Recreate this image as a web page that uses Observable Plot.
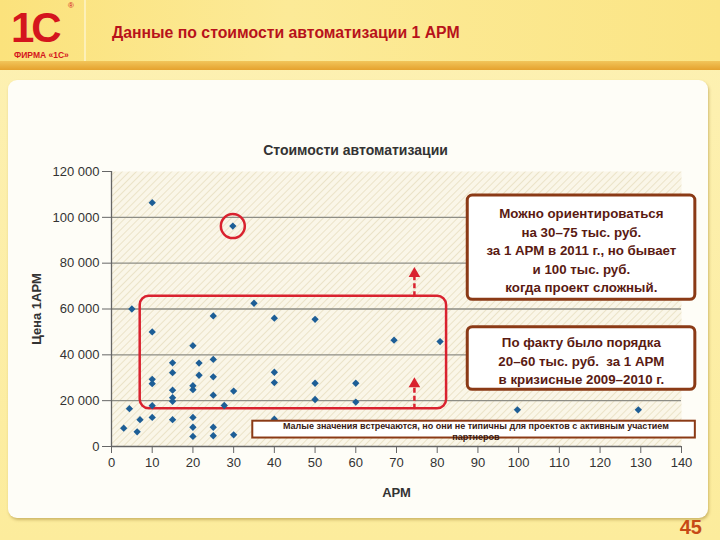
<!DOCTYPE html>
<html><head><meta charset="utf-8">
<script src="https://cdn.jsdelivr.net/npm/d3@7"></script>
<script src="https://cdn.jsdelivr.net/npm/@observablehq/plot@0.6"></script>
<style>
body{margin:0;}
#slide{position:relative;width:720px;height:540px;overflow:hidden;background:linear-gradient(#fdf1b4,#fcec9c);font-family:"Liberation Sans",Arial,sans-serif;}
#header{position:absolute;left:0;top:0;width:720px;height:61px;background:linear-gradient(90deg,#fbe27c,#fcea97 40%,#fbe586);}
#sep{position:absolute;left:84px;top:0;width:2px;height:61px;background:#fdf0b8;}
#band{position:absolute;left:0;top:61px;width:720px;height:9px;background:linear-gradient(#f2c55a,#e5a22e);}
#logo{position:absolute;left:11px;top:4px;color:#d4151d;font-weight:bold;font-size:42px;letter-spacing:-3px;line-height:normal;font-family:"Liberation Sans",Arial,sans-serif;white-space:nowrap;}
#reg{position:absolute;left:68px;top:2px;color:#d4151d;font-size:8px;line-height:8px;}
#firma{position:absolute;left:14px;top:51px;color:#d4151d;font-weight:bold;font-size:8.5px;line-height:9px;}
#title{position:absolute;left:112px;top:24px;color:#b8121b;font-weight:bold;font-size:15.8px;}
#panel{position:absolute;left:8px;top:80px;width:700px;height:438px;background:#fefdf7;border-radius:9px;box-shadow:1px 2px 3px rgba(150,120,40,0.45);}
#chart{position:absolute;left:0;top:80px;}
#pagenum{position:absolute;right:18px;top:516px;color:#c64a16;font-weight:bold;font-size:20px;}
</style></head><body>
<div id="slide">
  <div id="header"></div>
  <div id="sep"></div>
  <div id="band"></div>
  <div id="logo">1С</div>
  <div id="reg">®</div>
  <div id="firma">ФИРМА «1С»</div>
  <div id="title">Данные по стоимости автоматизации 1 АРМ</div>
  <div id="panel"></div>
  <div id="chart"></div>
  <div id="pagenum">45</div>
</div>
<script>
// data: number of workstations (АРМ) and price per workstation
const apm   = [3, 4.4, 5, 6.3, 7, 10, 10, 10, 10, 10, 10, 15, 15, 15, 15, 15, 15, 20, 20, 20, 20, 20, 20, 21.5, 21.5, 25, 25, 25, 25, 25, 25, 27.7, 29.8, 30, 30, 35, 40, 40, 40, 40, 50, 50, 50, 60, 60, 69.4, 80.7, 99.7, 129.4];
const price = [8000, 16500, 60000, 6400, 11700, 106400, 50000, 29300, 27400, 17800, 12700, 36500, 32200, 24600, 21300, 19700, 11700, 44000, 26500, 24800, 12700, 8400, 4400, 36400, 31100, 57000, 38000, 30400, 22400, 8400, 4700, 17900, 96200, 24200, 5100, 62500, 56000, 32400, 27900, 11900, 55500, 27600, 20500, 27600, 19400, 46400, 45800, 16000, 16000];
const xTicks = [0, 10, 20, 30, 40, 50, 60, 70, 80, 90, 100, 110, 120, 130, 140];
const yTicks = [0, 20000, 40000, 60000, 80000, 100000, 120000];
const gridLevels = [20000, 40000, 60000, 80000, 100000];
const highlighted = [{x: 29.8, y: 96200}];

const chartTitle = "Стоимости автоматизации";
const yLabel = "Цена 1АРМ";
const xLabel = "АРМ";
const note1 = "Можно ориентироваться\nна 30–75 тыс. руб.\nза 1 АРМ в 2011 г., но бывает\nи 100 тыс. руб.\nкогда проект сложный.";
const note2 = "По факту было порядка\n20–60 тыс. руб.  за 1 АРМ\nв кризисные 2009–2010 г.";
const note3 = "Малые значения встречаются, но они не типичны для проектов с активным участием\nпартнеров";

const points = apm.map((a, i) => ({apm: a, price: price[i]}));
const fmt = d => d === 0 ? "0" : d3.format(",")(d).replace(/,/g, " ");
const red = "#d9222f", brown = "#8b3a16", textRed = "#5a1a12";

const chart = Plot.plot({
  width: 720, height: 440,
  marginLeft: 111, marginRight: 39, marginTop: 91, marginBottom: 74,
  style: {fontFamily: "Liberation Sans, Arial, sans-serif", fontSize: "13px", background: "transparent", overflow: "visible", color: "#333"},
  x: {domain: [0, 140]},
  y: {domain: [0, 120000]},
  marks: [
    Plot.frame({fill: "#faf6e8", stroke: "none"}),
    Plot.ruleY(gridLevels, {stroke: "#8d8d85", strokeWidth: 1.3}),
    Plot.ruleY([0], {stroke: "#666", strokeWidth: 1.3}),
    Plot.ruleX([0], {stroke: "#666", strokeWidth: 1.3}),
    Plot.axisY({ticks: yTicks, tickFormat: fmt, tickSize: 9, tickPadding: 3, stroke: "#666", fill: "#333", label: null}),
    Plot.axisX({ticks: xTicks, tickSize: 7, tickPadding: 4, stroke: "#666", fill: "#333", label: null}),
    Plot.text([chartTitle], {text: d => d, frameAnchor: "top", textAnchor: "middle", lineAnchor: "middle", dx: -41, dy: -21, fontWeight: "bold", fontSize: 14, fill: "#333"}),
    Plot.text([yLabel], {text: d => d, frameAnchor: "left", textAnchor: "middle", lineAnchor: "middle", dx: -75, rotate: -90, fontWeight: "bold", fontSize: 13, fill: "#333"}),
    Plot.text([xLabel], {text: d => d, frameAnchor: "bottom", textAnchor: "middle", lineAnchor: "middle", dy: 46, fontWeight: "bold", fontSize: 13, fill: "#333"}),
    Plot.rect([0], {x1: 7.05, x2: 82.3, y1: 16500, y2: 65600, rx: 9, fill: "none", stroke: red, strokeWidth: 2.5}),
    Plot.link([0], {x1: 74.4, x2: 74.4, y1: 16500, y2: 26200, stroke: red, strokeWidth: 2.5, strokeDasharray: "5,3"}),
    Plot.dot([0], {x: 74.4, y: 27300, symbol: "triangle", r: 4.3, fill: red, stroke: "none"}),
    Plot.link([0], {x1: 74.4, x2: 74.4, y1: 65600, y2: 74600, stroke: red, strokeWidth: 2.5, strokeDasharray: "5,3"}),
    Plot.dot([0], {x: 74.4, y: 75400, symbol: "triangle", r: 4.3, fill: red, stroke: "none"}),
    Plot.dot(points, {x: "apm", y: "price", symbol: "diamond2", r: 3.3, fill: "#1d5e96", stroke: "none"}),
    Plot.dot(highlighted, {x: "x", y: "y", r: 12, fill: "none", stroke: red, strokeWidth: 2.5}),
    Plot.rect([0], {x1: 87.5, x2: 143.4, y1: 64000, y2: 109500, rx: 5, fill: "white", stroke: brown, strokeWidth: 3}),
    Plot.text([note1], {text: d => d, x: 115.4, y: 86100, lineHeight: 1.4, fontSize: 13.3, fontWeight: "bold", fill: textRed}),
    Plot.rect([0], {x1: 87.5, x2: 143.4, y1: 24750, y2: 52050, rx: 5, fill: "white", stroke: brown, strokeWidth: 3}),
    Plot.text([note2], {text: d => d, x: 115.4, y: 37900, lineHeight: 1.4, fontSize: 13.3, fontWeight: "bold", fill: textRed}),
    Plot.rect([0], {x1: 34.7, x2: 143.4, y1: 3700, y2: 11040, fill: "white", stroke: brown, strokeWidth: 2}),
    Plot.text([note3], {text: d => d, x: 89.5, y: 6760, lineHeight: 1.25, fontSize: 9, fontWeight: "bold", fill: "#3a1a12"})
  ]
});

// hatched plot background
const svg = d3.select(chart);
const defs = svg.insert("defs", ":first-child");
const pat = defs.append("pattern").attr("id", "hatch").attr("patternUnits", "userSpaceOnUse")
  .attr("width", 5).attr("height", 5).attr("patternTransform", "rotate(45)");
pat.append("rect").attr("width", 5).attr("height", 5).attr("fill", "#faf6e8");
pat.append("line").attr("x1", 0).attr("y1", 0).attr("x2", 0).attr("y2", 5).attr("stroke", "#e8dec0").attr("stroke-width", 1.6);
svg.selectAll('[aria-label="frame"]').each(function() {
  const el = d3.select(this);
  if (this.tagName.toLowerCase() === "rect") el.attr("fill", "url(#hatch)");
  else el.selectAll("rect").attr("fill", "url(#hatch)");
});
document.getElementById("chart").appendChild(chart);
</script>
</body></html>
